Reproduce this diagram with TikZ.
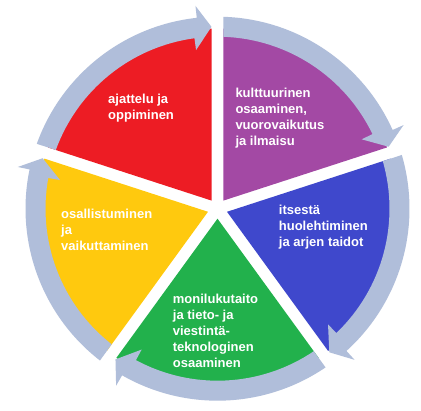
\documentclass[tikz,border=0pt]{standalone}
\usepackage{fontspec}
\setmainfont{Liberation Sans}
\definecolor{cred}{RGB}{237,28,36}
\definecolor{cpurple}{RGB}{163,73,164}
\definecolor{cblue}{RGB}{63,72,204}
\definecolor{cgreen}{RGB}{34,177,76}
\definecolor{cyellow}{RGB}{255,201,14}
\definecolor{carrow}{RGB}{176,190,218}
\newcommand\pieslice[2]{% colour, start angle (clockwise span of 72 deg)
  \fill[#1, shift={(#2-36:10)}] (0,0) -- (#2:172)
    arc[start angle=#2, end angle=#2-72, radius=172] -- cycle;
}
\newcommand\cyclearrow[1]{% start angle of the slice
  \pgfmathsetmacro\so{#1-1.75}
  \pgfmathsetmacro\si{#1-1.96}
  \pgfmathsetmacro\tp{#1-72+1.9}
  \pgfmathsetmacro\ho{\tp+4.3}
  \pgfmathsetmacro\hi{\tp+5.8}
  \fill[arrowfill] (\so:192) arc[start angle=\so, end angle=\ho, radius=192]
    -- (\ho:204) -- (\tp:182) -- (\hi:160) -- (\hi:172)
    arc[start angle=\hi, end angle=\si, radius=172] -- cycle;
}
\begin{document}
\begin{tikzpicture}[x=1pt,y=1pt,
  lbl/.style={anchor=base west, inner sep=0pt, text=white,
    font=\fontsize{13}{16}\selectfont\bfseries},
  arrowfill/.style={fill=carrow}]
\useasboundingbox[fill=white] (0,0) rectangle (421,-411);
\coordinate (C) at (217.5,-208.7);
\begin{scope}[shift={(C)}]
  \pieslice{cpurple}{90}
  \pieslice{cblue}{18}
  \pieslice{cgreen}{-54}
  \pieslice{cyellow}{-126}
  \pieslice{cred}{162}
  \cyclearrow{90}
  \cyclearrow{18}
  \cyclearrow{-54}
  \cyclearrow{-126}
  \cyclearrow{162}
\end{scope}
\node[lbl] (red) at (108,-104) {\begin{tabular}[t]{@{}l@{}}ajattelu ja\\oppiminen\end{tabular}};
\node[lbl] (purple) at (235.3,-97.5) {\begin{tabular}[t]{@{}l@{}}kulttuurinen\\osaaminen,\\vuorovaikutus\\ja ilmaisu\end{tabular}};
\node[lbl] (blue) at (278.7,-215) {\begin{tabular}[t]{@{}l@{}}itsestä\\huolehtiminen\\ja arjen taidot\end{tabular}};
\node[lbl] (yellow) at (61,-218.3) {\begin{tabular}[t]{@{}l@{}}osallistuminen\\ja\\vaikuttaminen\end{tabular}};
\node[lbl] (green) at (172.7,-303.3) {\begin{tabular}[t]{@{}l@{}}monilukutaito\\ja tieto- ja\\viestintä-\\teknologinen\\osaaminen\end{tabular}};
\end{tikzpicture}
\end{document}
